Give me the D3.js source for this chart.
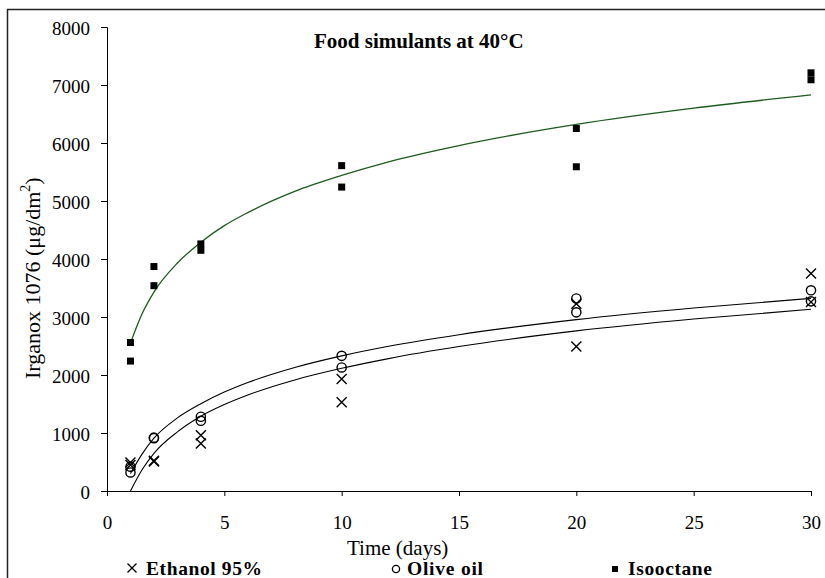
<!DOCTYPE html>
<html>
<head>
<meta charset="utf-8">
<script src="https://cdn.jsdelivr.net/npm/d3@7"></script>
<style>
  html, body { margin: 0; padding: 0; background: #fff; }
  svg { display: block; font-family: "Liberation Serif", "Times New Roman", serif; }
</style>
</head>
<body>
<svg id="chart" width="825" height="578"></svg>
<script>
// ---- data ----
const days = [1, 1, 2, 2, 4, 4, 10, 10, 20, 20, 30, 30];
const ethanol = [490, 450, 520, 510, 960, 820, 1930, 1530, 3230, 2490, 3750, 3260];
const oliveOil = [420, 320, 920, 910, 1280, 1210, 2330, 2130, 3320, 3080, 3460, 3270];
const isooctane = [2560, 2240, 3870, 3540, 4260, 4150, 5610, 5240, 6250, 5590, 7210, 7090];

// trend curves
const trendDays = [1, 1.5, 2, 3, 4, 5, 6, 8, 10, 12, 15, 20, 25, 30];
const isoTrend = [2550, 3060, 3430, 3930, 4290, 4575, 4800, 5165, 5440, 5675, 5955, 6320, 6600, 6830];
const oliveTrend = [300, 640, 910, 1260, 1505, 1705, 1870, 2130, 2330, 2495, 2695, 2955, 3155, 3322];
const ethTrend = [0, 370, 650, 1020, 1290, 1490, 1655, 1915, 2115, 2283, 2490, 2760, 2965, 3133];

const xTicks = [0, 5, 10, 15, 20, 25, 30];
const yTicks = [0, 1000, 2000, 3000, 4000, 5000, 6000, 7000, 8000];

const title = "Food simulants at 40°C";
const xTitle = "Time (days)";
const legendLabels = ["Ethanol 95%", "Olive oil", "Isooctane"];

// ---- drawing ----
const svg = d3.select("#chart");
const x = d3.scaleLinear().domain([0, 30]).range([107, 811]);
const y = d3.scaleLinear().domain([0, 8000]).range([491, 27]);

// outer frame (clipped by the window on right/bottom)
svg.append("rect").attr("x", 7.5).attr("y", 9.5).attr("width", 840).attr("height", 600)
  .attr("fill", "none").attr("stroke", "#222").attr("stroke-width", 1.5);

// axes
const yAxis = svg.append("g").attr("transform", "translate(107,0)")
  .call(d3.axisLeft(y).tickValues(yTicks).tickSize(6).tickPadding(11).tickFormat(d3.format("d")));
const xAxis = svg.append("g").attr("transform", "translate(0,491)")
  .call(d3.axisBottom(x).tickValues(xTicks).tickSize(5).tickPadding(20).tickFormat(d3.format("d")));
[yAxis, xAxis].forEach(g => {
  g.select(".domain").attr("stroke", "#000").attr("stroke-width", 1);
  g.selectAll(".tick line").attr("stroke", "#000").attr("stroke-width", 1);
  g.selectAll("text").attr("font-family", "Liberation Serif").attr("font-size", 19).attr("fill", "#000");
});
yAxis.selectAll("text").attr("dy", "0.38em");

// titles
svg.append("text").attr("x", 314).attr("y", 48).attr("font-size", 21).attr("font-weight", "bold")
  .text(title);
svg.append("text").attr("x", 347).attr("y", 555).attr("font-size", 21).text(xTitle);
const yt = svg.append("text").attr("transform", "translate(40,379) rotate(-90)")
  .attr("font-size", 22);
yt.append("tspan").text("Irganox 1076 (μg/dm");
yt.append("tspan").attr("font-size", 14).attr("dy", -10).text("2");
yt.append("tspan").attr("dy", 10).text(")");

// trend lines
const line = d3.line().x((d, i) => x(trendDays[i])).y(d => y(d)).curve(d3.curveMonotoneX);
svg.append("path").datum(isoTrend).attr("d", line).attr("fill", "none")
  .attr("stroke", "#1e5a1e").attr("stroke-width", 1.3);
svg.append("path").datum(oliveTrend).attr("d", line).attr("fill", "none")
  .attr("stroke", "#000").attr("stroke-width", 1.1);
svg.append("path").datum(ethTrend).attr("d", line).attr("fill", "none")
  .attr("stroke", "#000").attr("stroke-width", 1.1);

// markers
const crossPath = s => `M${-s},${-s}L${s},${s}M${-s},${s}L${s},${-s}`;
svg.append("g").selectAll("path").data(ethanol).join("path")
  .attr("transform", (d, i) => `translate(${x(days[i])},${y(d)})`)
  .attr("d", crossPath(5)).attr("stroke", "#000").attr("stroke-width", 1.4).attr("fill", "none");
svg.append("g").selectAll("circle").data(oliveOil).join("circle")
  .attr("cx", (d, i) => x(days[i])).attr("cy", d => y(d)).attr("r", 4.6)
  .attr("fill", "none").attr("stroke", "#000").attr("stroke-width", 1.4);
svg.append("g").selectAll("rect").data(isooctane).join("rect")
  .attr("x", (d, i) => x(days[i]) - 3.5).attr("y", d => y(d) - 3.5)
  .attr("width", 7).attr("height", 7).attr("fill", "#000");

// legend
const lg = svg.append("g");
lg.append("path").attr("transform", "translate(132,568)").attr("d", crossPath(4.5))
  .attr("stroke", "#000").attr("stroke-width", 1.4);
lg.append("text").attr("x", 146).attr("y", 575).attr("font-size", 19.5).attr("font-weight", "bold")
  .attr("textLength", 116).attr("lengthAdjust", "spacing").text(legendLabels[0]);
lg.append("circle").attr("cx", 396).attr("cy", 569).attr("r", 3.6)
  .attr("fill", "none").attr("stroke", "#000").attr("stroke-width", 1.3);
lg.append("text").attr("x", 407).attr("y", 575).attr("font-size", 19.5).attr("font-weight", "bold")
  .attr("textLength", 76).attr("lengthAdjust", "spacing").text(legendLabels[1]);
lg.append("rect").attr("x", 612).attr("y", 566).attr("width", 6).attr("height", 6).attr("fill", "#000");
lg.append("text").attr("x", 628).attr("y", 575).attr("font-size", 19.5).attr("font-weight", "bold")
  .attr("textLength", 84).attr("lengthAdjust", "spacing").text(legendLabels[2]);
</script>
</body>
</html>
